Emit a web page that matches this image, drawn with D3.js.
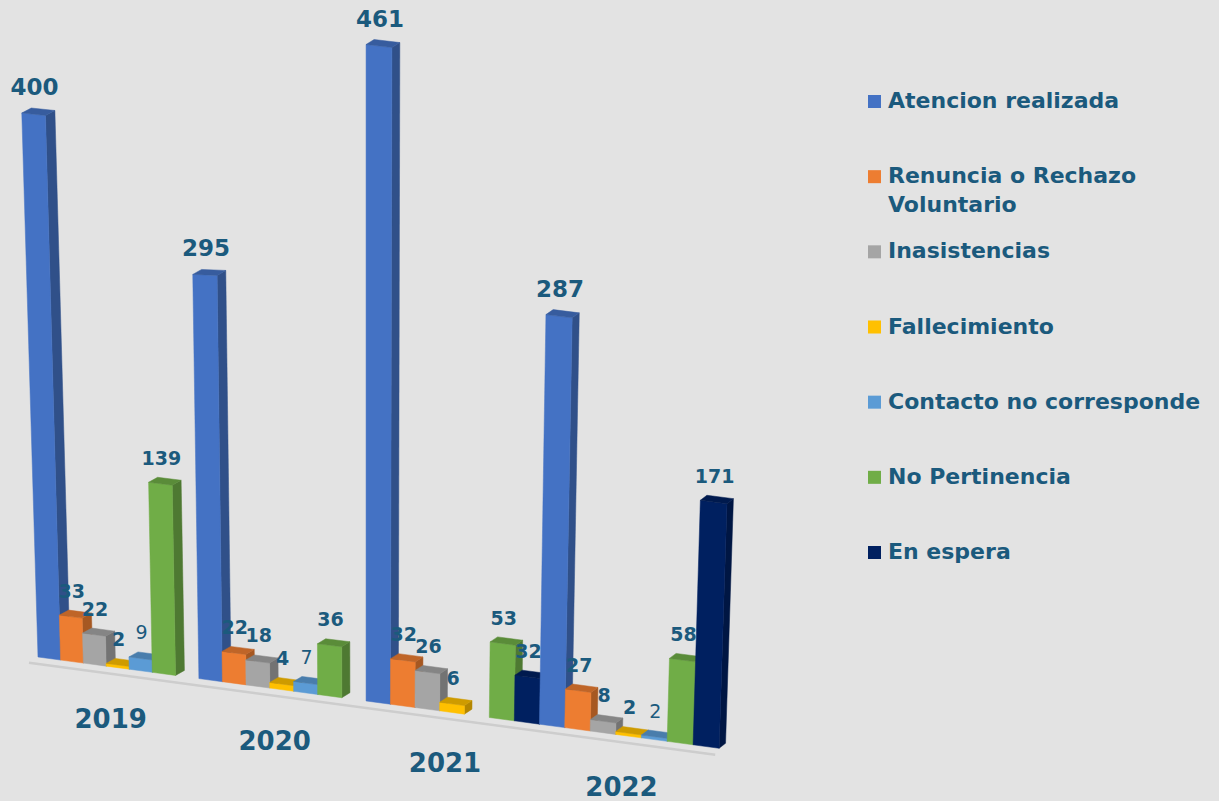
<!DOCTYPE html>
<html><head><meta charset="utf-8">
<script src="https://cdn.jsdelivr.net/npm/d3@7"></script>
<style>html,body{margin:0;padding:0;background:#E3E3E3;} svg{display:block}</style>
</head><body><svg id="c" width="1219" height="801"></svg>
<script>
// ---- data ----
const years = ["2019","2020","2021","2022"];
const seriesNames = ["Atencion realizada","Renuncia o Rechazo Voluntario","Inasistencias","Fallecimiento","Contacto no corresponde","No Pertinencia","En espera"];
const atencion      = [400,295,461,287];
const renuncia      = [33,22,32,27];
const inasistencias = [22,18,26,8];
const fallecimiento = [2,4,6,2];
const contacto      = [9,7,null,2];
const noPertinencia = [139,36,53,58];
const enEspera      = [null,null,32,171];
const seriesValues = [atencion,renuncia,inasistencias,fallecimiento,contacto,noPertinencia,enEspera];
const colors = ["#4472C4","#ED7D31","#A5A5A5","#FFC000","#5B9BD5","#70AD47","#002060"];
const legendLines = [["Atencion realizada"],["Renuncia o Rechazo","Voluntario"],["Inasistencias"],["Fallecimiento"],["Contacto no corresponde"],["No Pertinencia"],["En espera"]];

// ---- style ----
const textColor = "#1B5A7D";
const svg = d3.select("#c");
svg.append("rect").attr("width",1219).attr("height",801).attr("fill","#E3E3E3");

// ---- scales (world units) ----
const x0 = d3.scaleBand().domain(years).range([0,28]).paddingInner(0).paddingOuter(0);
const x1 = d3.scaleBand().domain(seriesNames).range([0,x0.bandwidth()]).padding(0);
const y = d3.scaleLinear().domain([0,100]).range([0,100]);

// perspective helpers
const sScale = d3.scaleLinear().domain([38,200,366,700]).range([1.36,1.37,1.424,1.43]);
const depthX = d3.scaleLinear().domain([38,700]).range([9.5,6.5]);
function proj(u, v, d){
  const bx = 38 + 22.54*u + 0.0638*u*u;
  const by = 657 + 0.134*(bx-38);
  const H = y(v) * sScale(bx);
  let px = bx + (bx-366)/11000*H;
  let py = by - H;
  px += d*depthX(bx); py += d*(-5);
  return [px,py];
}

// floor line
const f0 = proj(-0.4,0,0), f1 = proj(27.85,0,0);
svg.append("line").attr("x1",f0[0]).attr("y1",f0[1]+7).attr("x2",f1[0]).attr("y2",f1[1]+7)
  .attr("stroke","#CDCDCD").attr("stroke-width",2.5);

// bars (painter order left to right)
const bars = [];
years.forEach((yr,yi)=>{
  seriesNames.forEach((s,si)=>{
    const v = seriesValues[si][yi];
    bars.push({yr, s, si, v, u0: x0(yr)+x1(s)});
  });
});
const gBars = svg.append("g");
const poly = pts => "M"+pts.map(p=>p.join(",")).join("L")+"Z";
bars.filter(b=>b.v!=null && b.v>0).forEach(b=>{
  const u0=b.u0, u1=b.u0+x1.bandwidth(), v=b.v;
  const c = d3.color(colors[b.si]);
  const g = gBars.append("g");
  g.append("path").attr("d",poly([proj(u1,0,0),proj(u1,0,1),proj(u1,v,1),proj(u1,v,0)]))
    .attr("fill", c.darker(1.0)).attr("stroke", c.darker(1.0)).attr("stroke-width",0.5);
  g.append("path").attr("d",poly([proj(u0,0,0),proj(u1,0,0),proj(u1,v,0),proj(u0,v,0)]))
    .attr("fill", c).attr("stroke", c).attr("stroke-width",0.5);
  g.append("path").attr("d",poly([proj(u0,v,0),proj(u1,v,0),proj(u1,v,1),proj(u0,v,1)]))
    .attr("fill", c.darker(0.6)).attr("stroke", c.darker(0.6)).attr("stroke-width",0.5);
});

// value labels
bars.filter(b=>b.v!=null && b.v>0).forEach(b=>{
  const p = proj(b.u0+x1.bandwidth()/2, b.v, 0);
  svg.append("text").attr("x",p[0]+1).attr("y",p[1]-19)
    .attr("text-anchor","middle")
    .attr("font-family","DejaVu Sans, Verdana, sans-serif")
    .attr("font-weight", b.si===4 ? "normal" : "bold")
    .attr("font-size", b.si===0 ? 23 : 19)
    .attr("fill",textColor).text(b.v);
});

// category labels
years.forEach(yr=>{
  const p = proj(x0(yr)+x0.bandwidth()/2,0,0);
  svg.append("text").attr("x",p[0]-7).attr("y",p[1]+60)
    .attr("text-anchor","middle")
    .attr("font-family","DejaVu Sans, Verdana, sans-serif")
    .attr("font-weight","bold").attr("font-size",26)
    .attr("fill",textColor).text(yr);
});

// legend
const legendY = d3.scalePoint().domain(seriesNames).range([108,559]);
const lg = svg.append("g");
seriesNames.forEach((s,i)=>{
  const by = legendY(s);
  lg.append("rect").attr("x",868).attr("y",by-13).attr("width",13).attr("height",13).attr("fill",colors[i]);
  const t = lg.append("text").attr("x",888).attr("y",by)
    .attr("font-family","DejaVu Sans, Verdana, sans-serif")
    .attr("font-weight","bold").attr("font-size",22).attr("fill",textColor);
  legendLines[i].forEach((ln,k)=>{
    t.append("tspan").attr("x",888).attr("y",by+29*k).text(ln);
  });
});
</script>
</body></html>
